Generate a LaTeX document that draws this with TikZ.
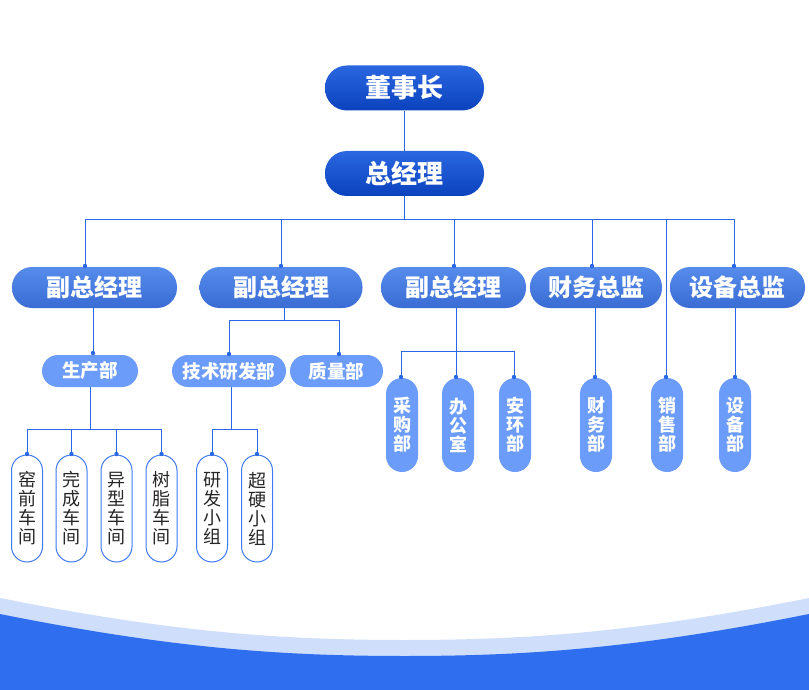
\documentclass[tikz,border=0pt]{standalone}
\usepackage{fontspec}
\newfontfamily\cjk{Noto Sans CJK SC}
\definecolor{linec}{HTML}{2B68E6}
\definecolor{darkT}{HTML}{2A67E0}
\definecolor{darkB}{HTML}{0B42BE}
\definecolor{midT}{HTML}{568CEC}
\definecolor{midB}{HTML}{3A6CD4}
\definecolor{lightc}{HTML}{6C9CFA}
\definecolor{outc}{HTML}{3F7BF0}
\definecolor{waveL}{HTML}{CFDEFA}
\definecolor{waveD}{HTML}{2F6FEF}
\tikzset{
  topbox/.style={rectangle, rounded corners=22pt, minimum width=159pt, minimum height=45pt, inner sep=0pt,
    top color=darkT, bottom color=darkB, text=white, font=\cjk\bfseries\fontsize{26}{28}\selectfont},
  midbox/.style={rectangle, rounded corners=20pt, minimum height=41pt, inner sep=0pt,
    top color=midT, bottom color=midB, text=white, font=\cjk\bfseries\fontsize{24}{26}\selectfont},
  lightbox/.style={rectangle, rounded corners=16pt, minimum height=32pt, inner sep=0pt,
    fill=lightc, text=white, font=\cjk\bfseries\fontsize{18.5}{20}\selectfont},
  vpill/.style={rectangle, rounded corners=16pt, minimum width=32pt, minimum height=94pt, inner sep=0pt,
    fill=lightc, text=white, align=center, font=\cjk\bfseries\fontsize{18}{19}\selectfont},
  opill/.style={rectangle, rounded corners=15.5pt, minimum width=31pt, minimum height=107pt, inner sep=0pt,
    fill=white, draw=outc, line width=1pt, text=black!85, align=center, font=\cjk\fontsize{18}{19}\selectfont},
  conn/.style={draw=linec, line width=1pt},
  dot/.style={fill=linec}
}
\begin{document}
\begin{tikzpicture}[x=1pt,y=-1pt]
\useasboundingbox (0,0) rectangle (809,690);
\fill[white] (0,0) rectangle (809,690);
% wave
\fill[waveL] (0,598) .. controls (170,632) and (280,640) .. (404.5,640) .. controls (529,640) and (639,632) .. (809,598) -- (809,690) -- (0,690) -- cycle;
\fill[waveD] (0,614) .. controls (170,648) and (280,656) .. (404.5,656) .. controls (529,656) and (639,648) .. (809,614) -- (809,690) -- (0,690) -- cycle;

% nodes
\node[topbox] (dsz) at (404.5,88) {董事长};
\node[topbox] (zjl) at (404.5,173.5) {总经理};
\node[midbox, minimum width=165pt] (f1) at (94.5,287.5) {副总经理};
\node[midbox, minimum width=163pt] (f2) at (281,287.5) {副总经理};
\node[midbox, minimum width=145pt] (f3) at (453.5,287.5) {副总经理};
\node[midbox, minimum width=132pt] (cwzj) at (596,287.5) {财务总监};
\node[midbox, minimum width=135pt] (sbzj) at (737.5,287.5) {设备总监};

\node[lightbox, minimum width=96pt] (scb) at (90,371) {生产部};
\node[lightbox, minimum width=114pt] (jsyf) at (229,371) {技术研发部};
\node[lightbox, minimum width=93pt] (zlb) at (336.5,371) {质量部};

\node[vpill] (cgb) at (402,425) {采\\购\\部};
\node[vpill] (bgs) at (458,425) {办\\公\\室};
\node[vpill] (ahb) at (515,425) {安\\环\\部};
\node[vpill] (cwb) at (596,425) {财\\务\\部};
\node[vpill] (xsb) at (667,425) {销\\售\\部};
\node[vpill] (sbb) at (735,425) {设\\备\\部};

\node[opill] (yq) at (27,508.5) {窑\\前\\车\\间};
\node[opill] (wc) at (71.5,508.5) {完\\成\\车\\间};
\node[opill] (yx) at (116.5,508.5) {异\\型\\车\\间};
\node[opill] (sz) at (161.5,508.5) {树\\脂\\车\\间};
\node[opill] (yfz) at (212,508.5) {研\\发\\小\\组};
\node[opill] (cyz) at (257,508.5) {超\\硬\\小\\组};

% connection coordinates
\coordinate (b0) at (404.5,219);
\coordinate (tf1) at (85,266);
\coordinate (tf2) at (281,266);
\coordinate (tf3) at (454,266);
\coordinate (tcw) at (592,266);
\coordinate (tsb) at (734,266);
\coordinate (txs) at (666,377);

\draw[conn] (dsz) -- (zjl);
\draw[conn] (zjl) -- (b0);
\draw[conn] (b0) -| (tf1);
\draw[conn] (b0) -| (tf2);
\draw[conn] (b0) -| (tf3);
\draw[conn] (b0) -| (tcw);
\draw[conn] (b0) -| (tsb);
\draw[conn] (b0) -| (txs);

% f1 -> scb
\coordinate (tsc) at (93,353);
\draw[conn] (f1.south -| tsc) -- (tsc);
% f2 -> jsyf, zlb
\coordinate (b2) at (284,320);
\coordinate (tjs) at (229,354);
\coordinate (tzl) at (339,354);
\draw[conn] (f2.south -| b2) -- (b2);
\draw[conn] (b2) -| (tjs);
\draw[conn] (b2) -| (tzl);
% f3 -> cg, bgs, ah
\coordinate (b3) at (456,351);
\coordinate (tcg) at (401,377);
\coordinate (tbg) at (456,377);
\coordinate (tah) at (514,377);
\draw[conn] (f3.south -| b3) -- (tbg);
\draw[conn] (b3) -| (tcg);
\draw[conn] (b3) -| (tah);
% cwzj -> cwb
\coordinate (tcwb) at (595,377);
\draw[conn] (cwzj.south -| tcwb) -- (tcwb);
% sbzj -> sbb
\coordinate (tsbb) at (735,377);
\draw[conn] (sbzj.south -| tsbb) -- (tsbb);
% scb -> workshops
\coordinate (b4) at (90,429);
\coordinate (tyq) at (27,454);
\coordinate (twc) at (71.5,454);
\coordinate (tyx) at (116.5,454);
\coordinate (tsz) at (161.5,454);
\draw[conn] (scb.south -| b4) -- (b4);
\draw[conn] (b4) -| (tyq);
\draw[conn] (b4) -| (twc);
\draw[conn] (b4) -| (tyx);
\draw[conn] (b4) -| (tsz);
% jsyf -> groups
\coordinate (b5) at (231,429);
\coordinate (tyf) at (212,454);
\coordinate (tcy) at (257,454);
\draw[conn] (jsyf.south -| b5) -- (b5);
\draw[conn] (b5) -| (tyf);
\draw[conn] (b5) -| (tcy);

% dots
\foreach \p in {tf1,tf2,tf3,tcw,tsb,txs,tsc,tjs,tzl,tcg,tbg,tah,tcwb,tsbb,tyq,twc,tyx,tsz,tyf,tcy}
  \fill[dot] (\p) circle (2.2pt);
\end{tikzpicture}
\end{document}
